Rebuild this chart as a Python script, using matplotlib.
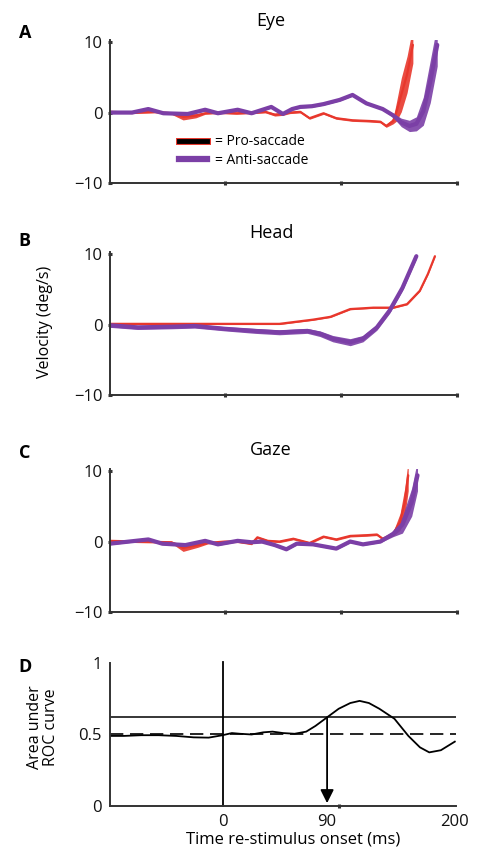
import matplotlib
matplotlib.use('Agg')
import matplotlib.pyplot as plt
import matplotlib.patheffects as pe
from matplotlib.lines import Line2D

plt.rcParams['font.family'] = ['Open Sans', 'DejaVu Sans']

RED = '#e8372c'
PURPLE = '#7b3fa6'
AXC = '#333333'

# Eye velocity (deg/s) vs time (ms)
eye_pro_t = [-99, -80, -60, -46, -36, -25, -17, -5, 10, 25, 35, 43, 50, 56, 65, 73, 85, 96,
             110, 125, 134, 139, 145, 148, 152, 157, 162]
eye_pro = [0.1, 0.0, 0.1, -0.1, -0.6, -0.45, -0.1, 0.0, -0.1, 0.0, 0.1, -0.3, -0.2, 0.0, 0.1,
           -0.8, -0.1, -0.8, -1.1, -1.2, -1.3, -1.9, -1.2, 0.2, 2.5, 5.4, 9.6]
eye_pro_se = [0.15, 0.15, 0.15, 0.15, 0.45, 0.3, 0.15, 0.15, 0.15, 0.15, 0.15, 0.2, 0.2, 0.15,
              0.15, 0.15, 0.15, 0.15, 0.15, 0.15, 0.15, 0.2, 0.4, 1.4, 2.4, 2.6, 2.6]
eye_anti_t = [-99, -80, -66, -53, -32, -17, -6, 11, 23, 40, 50, 58, 65, 75, 85, 99, 110, 122,
              136, 145, 152, 159, 165, 171, 177, 183]
eye_anti = [0.0, 0.0, 0.5, -0.1, -0.2, 0.4, -0.1, 0.4, -0.1, 0.8, -0.2, 0.5, 0.8, 0.9, 1.2, 1.8,
            2.5, 1.3, 0.5, -0.4, -1.4, -1.9, -1.6, 0.2, 4.4, 9.6]
eye_anti_se = [0.15] * 19 + [0.3, 0.6, 0.8, 1.0, 2.0, 3.0, 3.0]

# Head velocity
head_pro_t = [-99, -60, -20, 0, 47, 76, 91, 108, 128, 145, 157, 168, 175, 181]
head_pro = [0.1, 0.1, 0.1, 0.1, 0.1, 0.7, 1.1, 2.2, 2.4, 2.4, 2.9, 4.8, 7.2, 9.7]
head_pro_se = [0.1] * 14
head_anti_t = [-99, -75, -46, -26, 0, 26, 47, 71, 82, 93, 108, 119, 131, 142, 153, 165]
head_anti = [-0.1, -0.4, -0.3, -0.2, -0.6, -0.9, -1.1, -0.9, -1.3, -2.0, -2.5, -2.0, -0.4, 2.0,
             5.2, 9.7]
head_anti_se = [0.3, 0.3, 0.3, 0.3, 0.3, 0.35, 0.35, 0.35, 0.4, 0.45, 0.5, 0.45, 0.4, 0.4, 0.4, 0.4]

# Gaze velocity
gaze_pro_t = [-99, -75, -46, -36, -23, -15, 0, 11, 23, 28, 37, 47, 59, 73, 85, 96, 108, 122,
              131, 136, 145, 151, 155, 158]
gaze_pro = [0.1, 0.0, -0.1, -0.9, -0.5, -0.2, 0.0, 0.0, -0.3, 0.6, 0.1, 0.0, 0.4, -0.2, 0.7, 0.3,
            0.8, 0.9, 1.0, 0.4, 1.1, 2.8, 5.6, 9.4]
gaze_pro_se = [0.15, 0.15, 0.15, 0.5, 0.3, 0.15, 0.15, 0.15, 0.15, 0.15, 0.15, 0.15, 0.15, 0.15,
               0.15, 0.15, 0.15, 0.15, 0.15, 0.15, 0.3, 1.2, 2.0, 2.2]
gaze_anti_t = [-99, -66, -54, -34, -17, -6, 11, 23, 32, 43, 53, 62, 76, 96, 108, 119, 134, 145,
               153, 161, 166]
gaze_anti = [-0.3, 0.3, -0.3, -0.5, 0.1, -0.4, 0.1, -0.1, 0.0, -0.5, -1.1, -0.3, -0.4, -1.0, 0.0,
             -0.4, 0.0, 1.1, 2.4, 5.6, 9.4]
gaze_anti_se = [0.15] * 17 + [0.4, 1.2, 2.0, 2.2]

# ROC area
roc_t = [-97, -85, -70, -55, -40, -25, -12, 0, 8, 15, 25, 35, 43, 52, 62, 72, 80, 90, 100, 110,
         118, 126, 135, 148, 160, 170, 178, 188, 200]
roc_v = [0.49, 0.49, 0.495, 0.495, 0.49, 0.48, 0.478, 0.495, 0.51, 0.505, 0.50, 0.515, 0.52,
         0.51, 0.505, 0.52, 0.56, 0.62, 0.68, 0.72, 0.735, 0.72, 0.68, 0.61, 0.49, 0.41, 0.375,
         0.39, 0.45]
roc_thresh = 0.62
roc_chance = 0.5
onset_ms = 90

panels = [
    ('A', 'Eye', eye_pro_t, eye_pro, eye_pro_se, eye_anti_t, eye_anti, eye_anti_se),
    ('B', 'Head', head_pro_t, head_pro, head_pro_se, head_anti_t, head_anti, head_anti_se),
    ('C', 'Gaze', gaze_pro_t, gaze_pro, gaze_pro_se, gaze_anti_t, gaze_anti, gaze_anti_se),
]
bottoms = [0.7867, 0.5396, 0.2867]
letter_y = [0.9615, 0.719, 0.472]

fig = plt.figure(figsize=(4.78, 8.58), dpi=100)


def style_axes(ax):
    for s in ['top', 'right']:
        ax.spines[s].set_visible(False)
    for s in ['left', 'bottom']:
        ax.spines[s].set_color(AXC)
        ax.spines[s].set_linewidth(1.4)
    ax.tick_params(colors=AXC, labelcolor='#111111', labelsize=12)


for (letter, title, pt, pv, pse, at, av, ase), b, ly in zip(panels, bottoms, letter_y):
    ax = fig.add_axes([0.2301, b, 0.7259, 0.1667])
    style_axes(ax)
    lo = [v - s for v, s in zip(pv, pse)]
    hi = [v + s for v, s in zip(pv, pse)]
    ax.fill_between(pt, lo, hi, color=RED, lw=0, alpha=0.9)
    ax.plot(pt, pv, color=RED, lw=1.6, solid_capstyle='round')
    lo = [v - s for v, s in zip(av, ase)]
    hi = [v + s for v, s in zip(av, ase)]
    ax.fill_between(at, lo, hi, color=PURPLE, lw=0, alpha=0.9)
    ax.plot(at, av, color=PURPLE, lw=3.0, solid_capstyle='round')
    ax.set_xlim(-99, 200)
    ax.set_ylim(-10, 10.3)
    ax.set_yticks([-10, 0, 10])
    ax.set_yticklabels(['\u221210', '0', '10'])
    ax.set_xticks([0, 100, 200])
    ax.set_xticklabels([])
    ax.tick_params(axis='both', direction='inout', length=3, width=2.2, pad=4)
    ax.text(0.464, 1.13, title, transform=ax.transAxes, ha='center', va='center', fontsize=13)
    fig.text(0.052, ly, letter, ha='center', va='center', fontsize=13, fontweight='bold')
    if letter == 'A':
        h1 = Line2D([], [], color='black', lw=3.5,
                    path_effects=[pe.Stroke(linewidth=5, foreground=RED), pe.Normal()])
        h2 = Line2D([], [], color=PURPLE, lw=4.5)
        ax.legend([h1, h2], ['= Pro-saccade', '= Anti-saccade'], loc='upper left',
                  bbox_to_anchor=(0.2, 0.34), frameon=False, fontsize=10, handlelength=2.0,
                  handletextpad=0.6, labelspacing=0.25, borderpad=0, borderaxespad=0)

fig.text(0.094, 0.6247, 'Velocity (deg/s)', rotation=90, ha='center', va='center', fontsize=11.5)

# Panel D
axd = fig.add_axes([0.2301, 0.0606, 0.7238, 0.1667])
style_axes(axd)
axd.plot(roc_t, roc_v, color='black', lw=1.3)
axd.axhline(roc_thresh, color='black', lw=1.1)
axd.axhline(roc_chance, color='black', lw=1.2, dashes=(8, 4))
axd.axvline(0, ymin=0, ymax=1.01, color='black', lw=1.3, clip_on=False)
axd.annotate('', xy=(onset_ms, 0.02), xytext=(onset_ms, roc_thresh),
             arrowprops=dict(arrowstyle='-|>', color='black', lw=1.3, mutation_scale=20,
                             shrinkA=0, shrinkB=0))
axd.set_xlim(-97, 201)
axd.set_ylim(0, 1)
axd.set_yticks([0, 0.5, 1])
axd.set_yticklabels(['0', '0.5', '1'])
axd.set_xticks([0, onset_ms, 200])
axd.set_xticklabels(['0', '90', '200'])
axd.tick_params(axis='both', length=0, pad=6)
axd.set_xticks([100, 200], minor=True)
axd.set_yticks([1], minor=True)
axd.tick_params(which='minor', direction='inout', length=3, width=2.2, colors=AXC)
fig.text(0.052, 0.2226, 'D', ha='center', va='center', fontsize=13, fontweight='bold')
fig.text(0.09, 0.1527, 'Area under\nROC curve', rotation=90, ha='center', va='center',
         fontsize=11.5, linespacing=1.05)
fig.text(0.613, 0.021, 'Time re-stimulus onset (ms)', ha='center', va='center', fontsize=12)

fig.savefig('out.png', dpi=100)
